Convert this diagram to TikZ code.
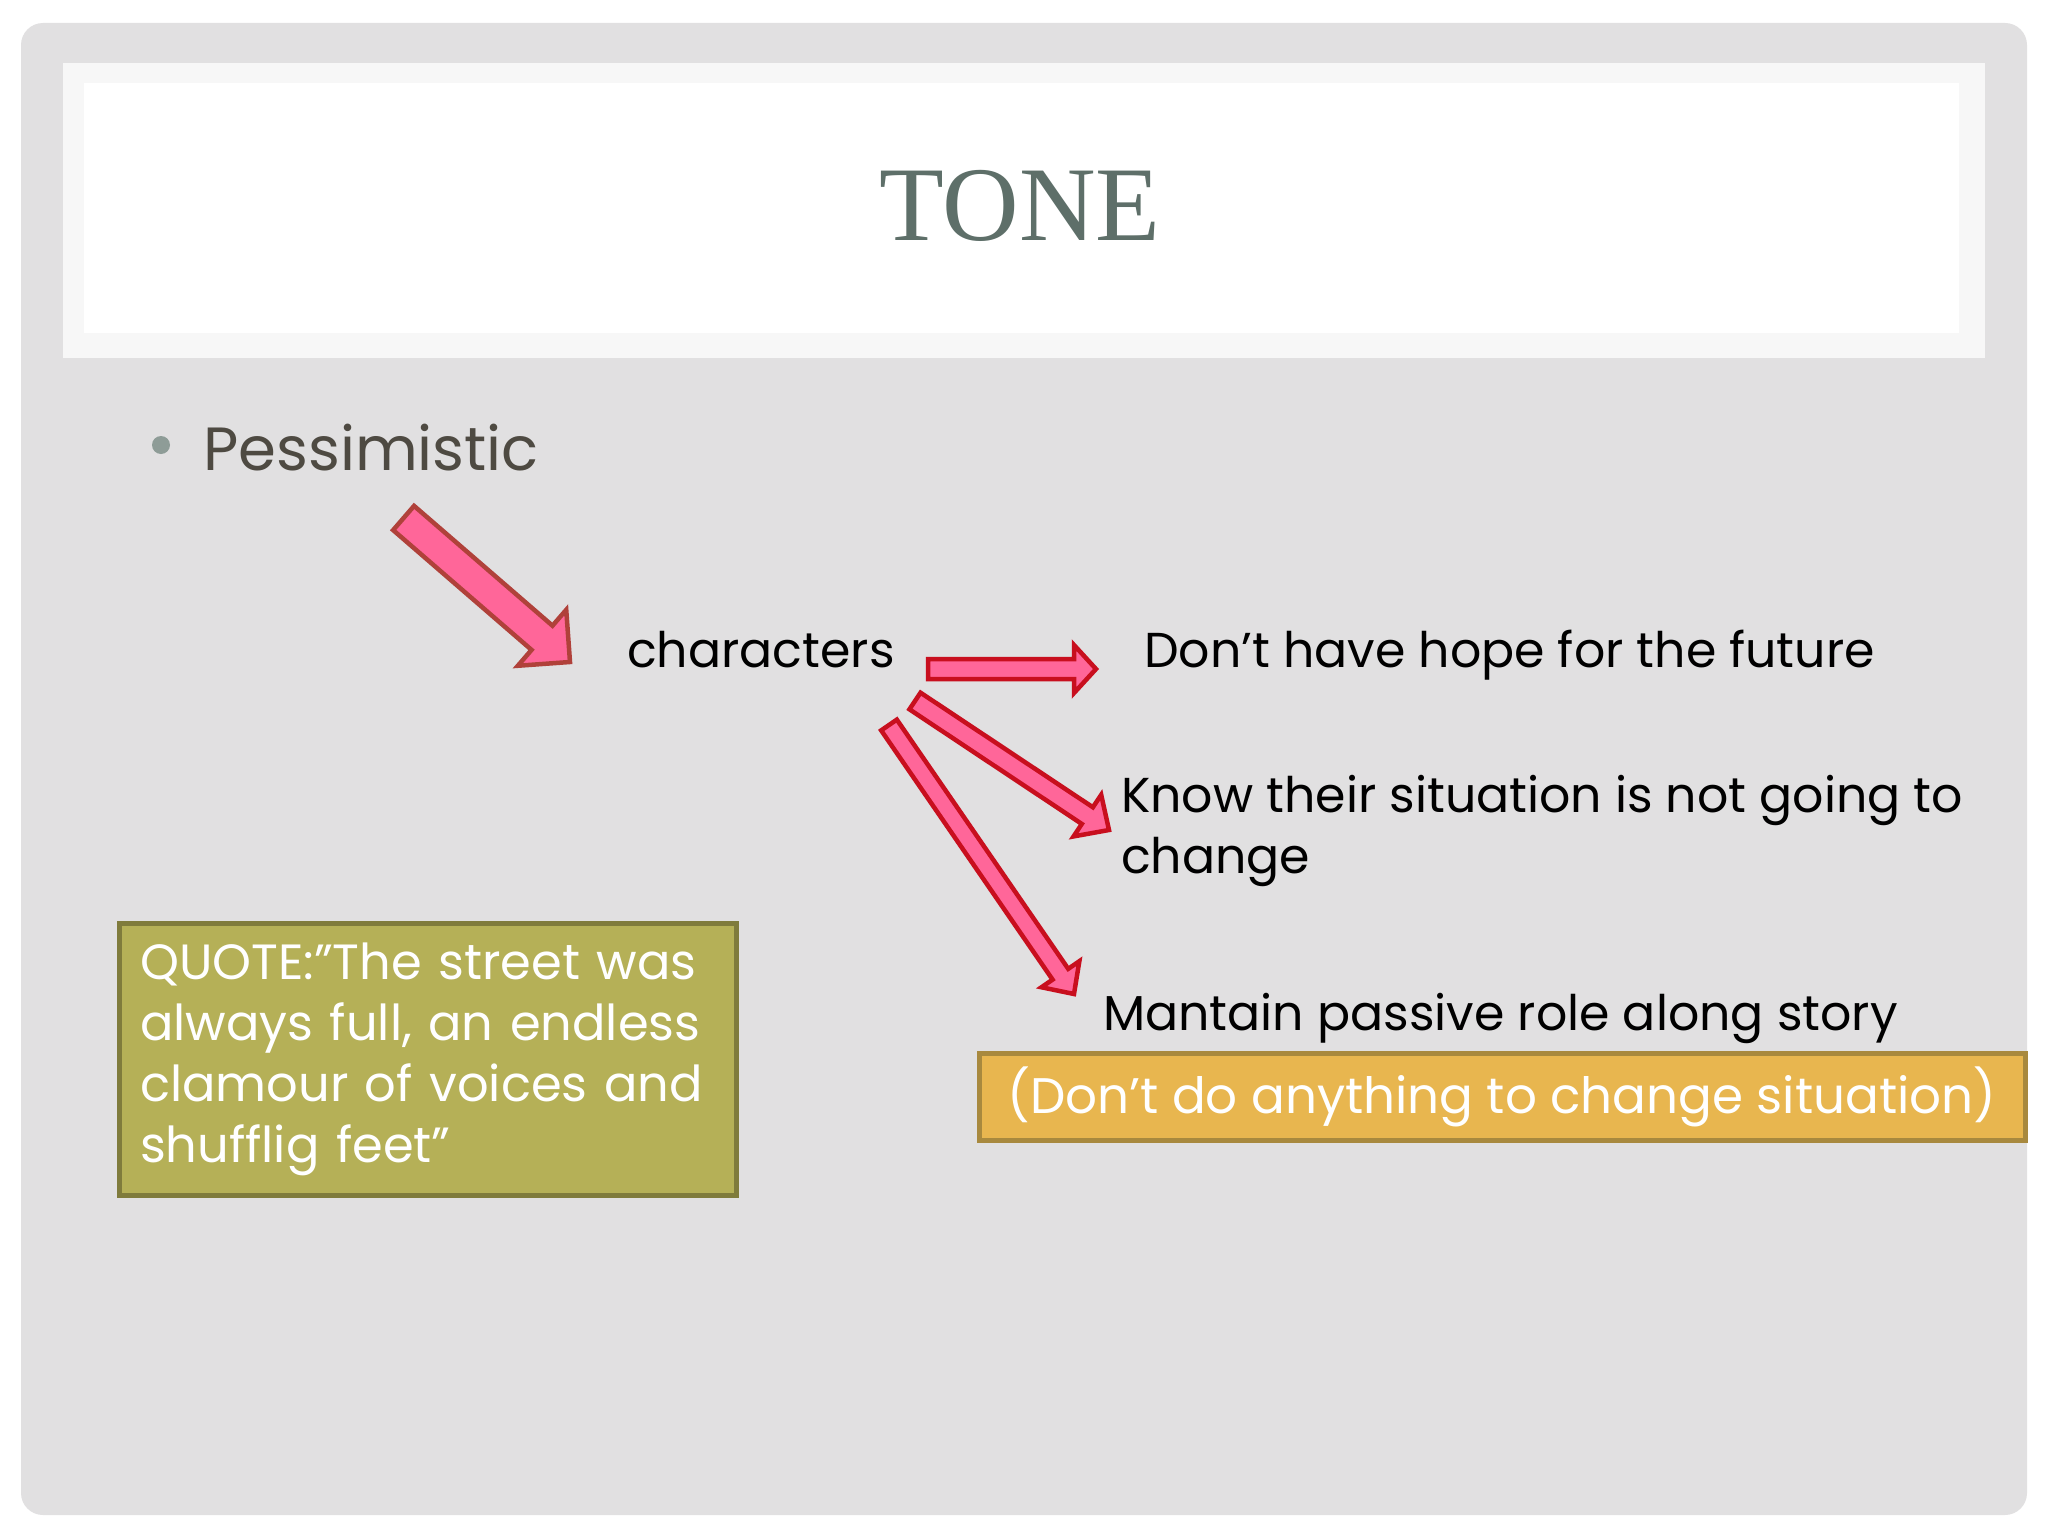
\documentclass[tikz,border=0pt]{standalone}
\usepackage{fontspec}
\setmainfont{Poppins}
\newfontfamily\titlefont{Liberation Serif}
\usetikzlibrary{calc}

\definecolor{slidegrey}{HTML}{E1E0E1}
\definecolor{bandwhite}{HTML}{F7F7F7}
\definecolor{titlegreen}{HTML}{5E6F69}
\definecolor{bulletgrey}{HTML}{8E9C97}
\definecolor{bodybrown}{HTML}{4E4A42}
\definecolor{arrowpink}{HTML}{FF6699}
\definecolor{arrowred}{HTML}{C80F1E}
\definecolor{arrowbrown}{HTML}{B0413A}
\definecolor{olivefill}{HTML}{B5B057}
\definecolor{olivedraw}{HTML}{7F7B3C}
\definecolor{goldfill}{HTML}{E8B64F}
\definecolor{golddraw}{HTML}{A8893E}

% block arrow: [style]{tail}{tip}{shaft half}{head length}{head half}
\newcommand\blockarrow[6][]{%
  \path ($(#3)!#5!(#2)$) coordinate (ab);
  \draw[arrowbox,#1] ($(#2)!#4!90:(#3)$) -- ($(ab)!#4!90:(#3)$) -- ($(ab)!#6!90:(#3)$)
    -- (#3) -- ($(ab)!#6!-90:(#3)$) -- ($(ab)!#4!-90:(#3)$) -- ($(#2)!#4!-90:(#3)$) -- cycle;}

\begin{document}
\begin{tikzpicture}[x=1pt,y=-1pt,
    txt/.style={anchor=base west,inner sep=0pt,font=\fontsize{49}{61}\selectfont},
    arrowbox/.style={fill=arrowpink,draw=arrowred,line width=4.5pt,line join=miter},
    quotebox/.style={fill=olivefill,draw=olivedraw,line width=5pt,text=white,
      minimum width=617pt,minimum height=272pt,text width=575pt,align=left,
      font=\fontsize{49.5}{61}\selectfont},
    sitbox/.style={fill=goldfill,draw=golddraw,line width=5pt,text=white,
      minimum width=1046pt,minimum height=87pt,inner sep=0pt,font=\fontsize{50}{50}\selectfont}]

    \useasboundingbox (0,0) rectangle (2048,1536);
    \fill[white] (0,0) rectangle (2048,1536);
    \fill[slidegrey,rounded corners=22pt] (21,23) rectangle (2027,1515);

    % title band
    \fill[bandwhite] (63,63) rectangle (1985,358);
    \fill[white] (84,83) rectangle (1959,333);
    \node[anchor=base,inner sep=0pt,text=titlegreen,font=\titlefont\fontsize{106}{106}\selectfont] (title) at (1020,240) {TONE};

    % bullet
    \fill[bulletgrey] (161,445) circle (9);
    \node[txt,text=bodybrown,font=\fontsize{61}{61}\selectfont] (pes) at (203,470) {Pessimistic};

    \node[txt] (chars) at (627,667) {characters};
    \node[txt] (hope) at (1144,667) {Don’t have hope for the future};
    \node[txt,align=left] (know) at (1121,873) {Know their situation is not going to\\change};
    \node[txt] (passive) at (1103,1030) {Mantain passive role along story};

    \node[sitbox] (sit) at (1502,1096.5) {(Don’t do anything to change situation)};
    \node[quotebox] (quote) at (427.5,1059) {QUOTE:”The street was\\always full, an endless\\clamour of voices and\\shufflig feet”};

    % arrows
    \coordinate (pes-tail) at (403.6,518);
    \coordinate (pes-tip) at (570,662);
    \coordinate (hope-tail) at (928,669);
    \coordinate (hope-tip) at (1096,669);
    \coordinate (know-tail) at (915,701);
    \coordinate (know-tip) at (1109,830);
    \coordinate (passive-tail) at (889,725);
    \coordinate (passive-tip) at (1074,994);

    \blockarrow[draw=arrowbrown]{pes-tail}{pes-tip}{16pt}{37pt}{37pt}
    \blockarrow{hope-tail}{hope-tip}{10pt}{22pt}{24pt}
    \blockarrow{know-tail}{know-tip}{10pt}{26pt}{25pt}
    \blockarrow{passive-tail}{passive-tip}{9.5pt}{24pt}{23pt}
\end{tikzpicture}
\end{document}
